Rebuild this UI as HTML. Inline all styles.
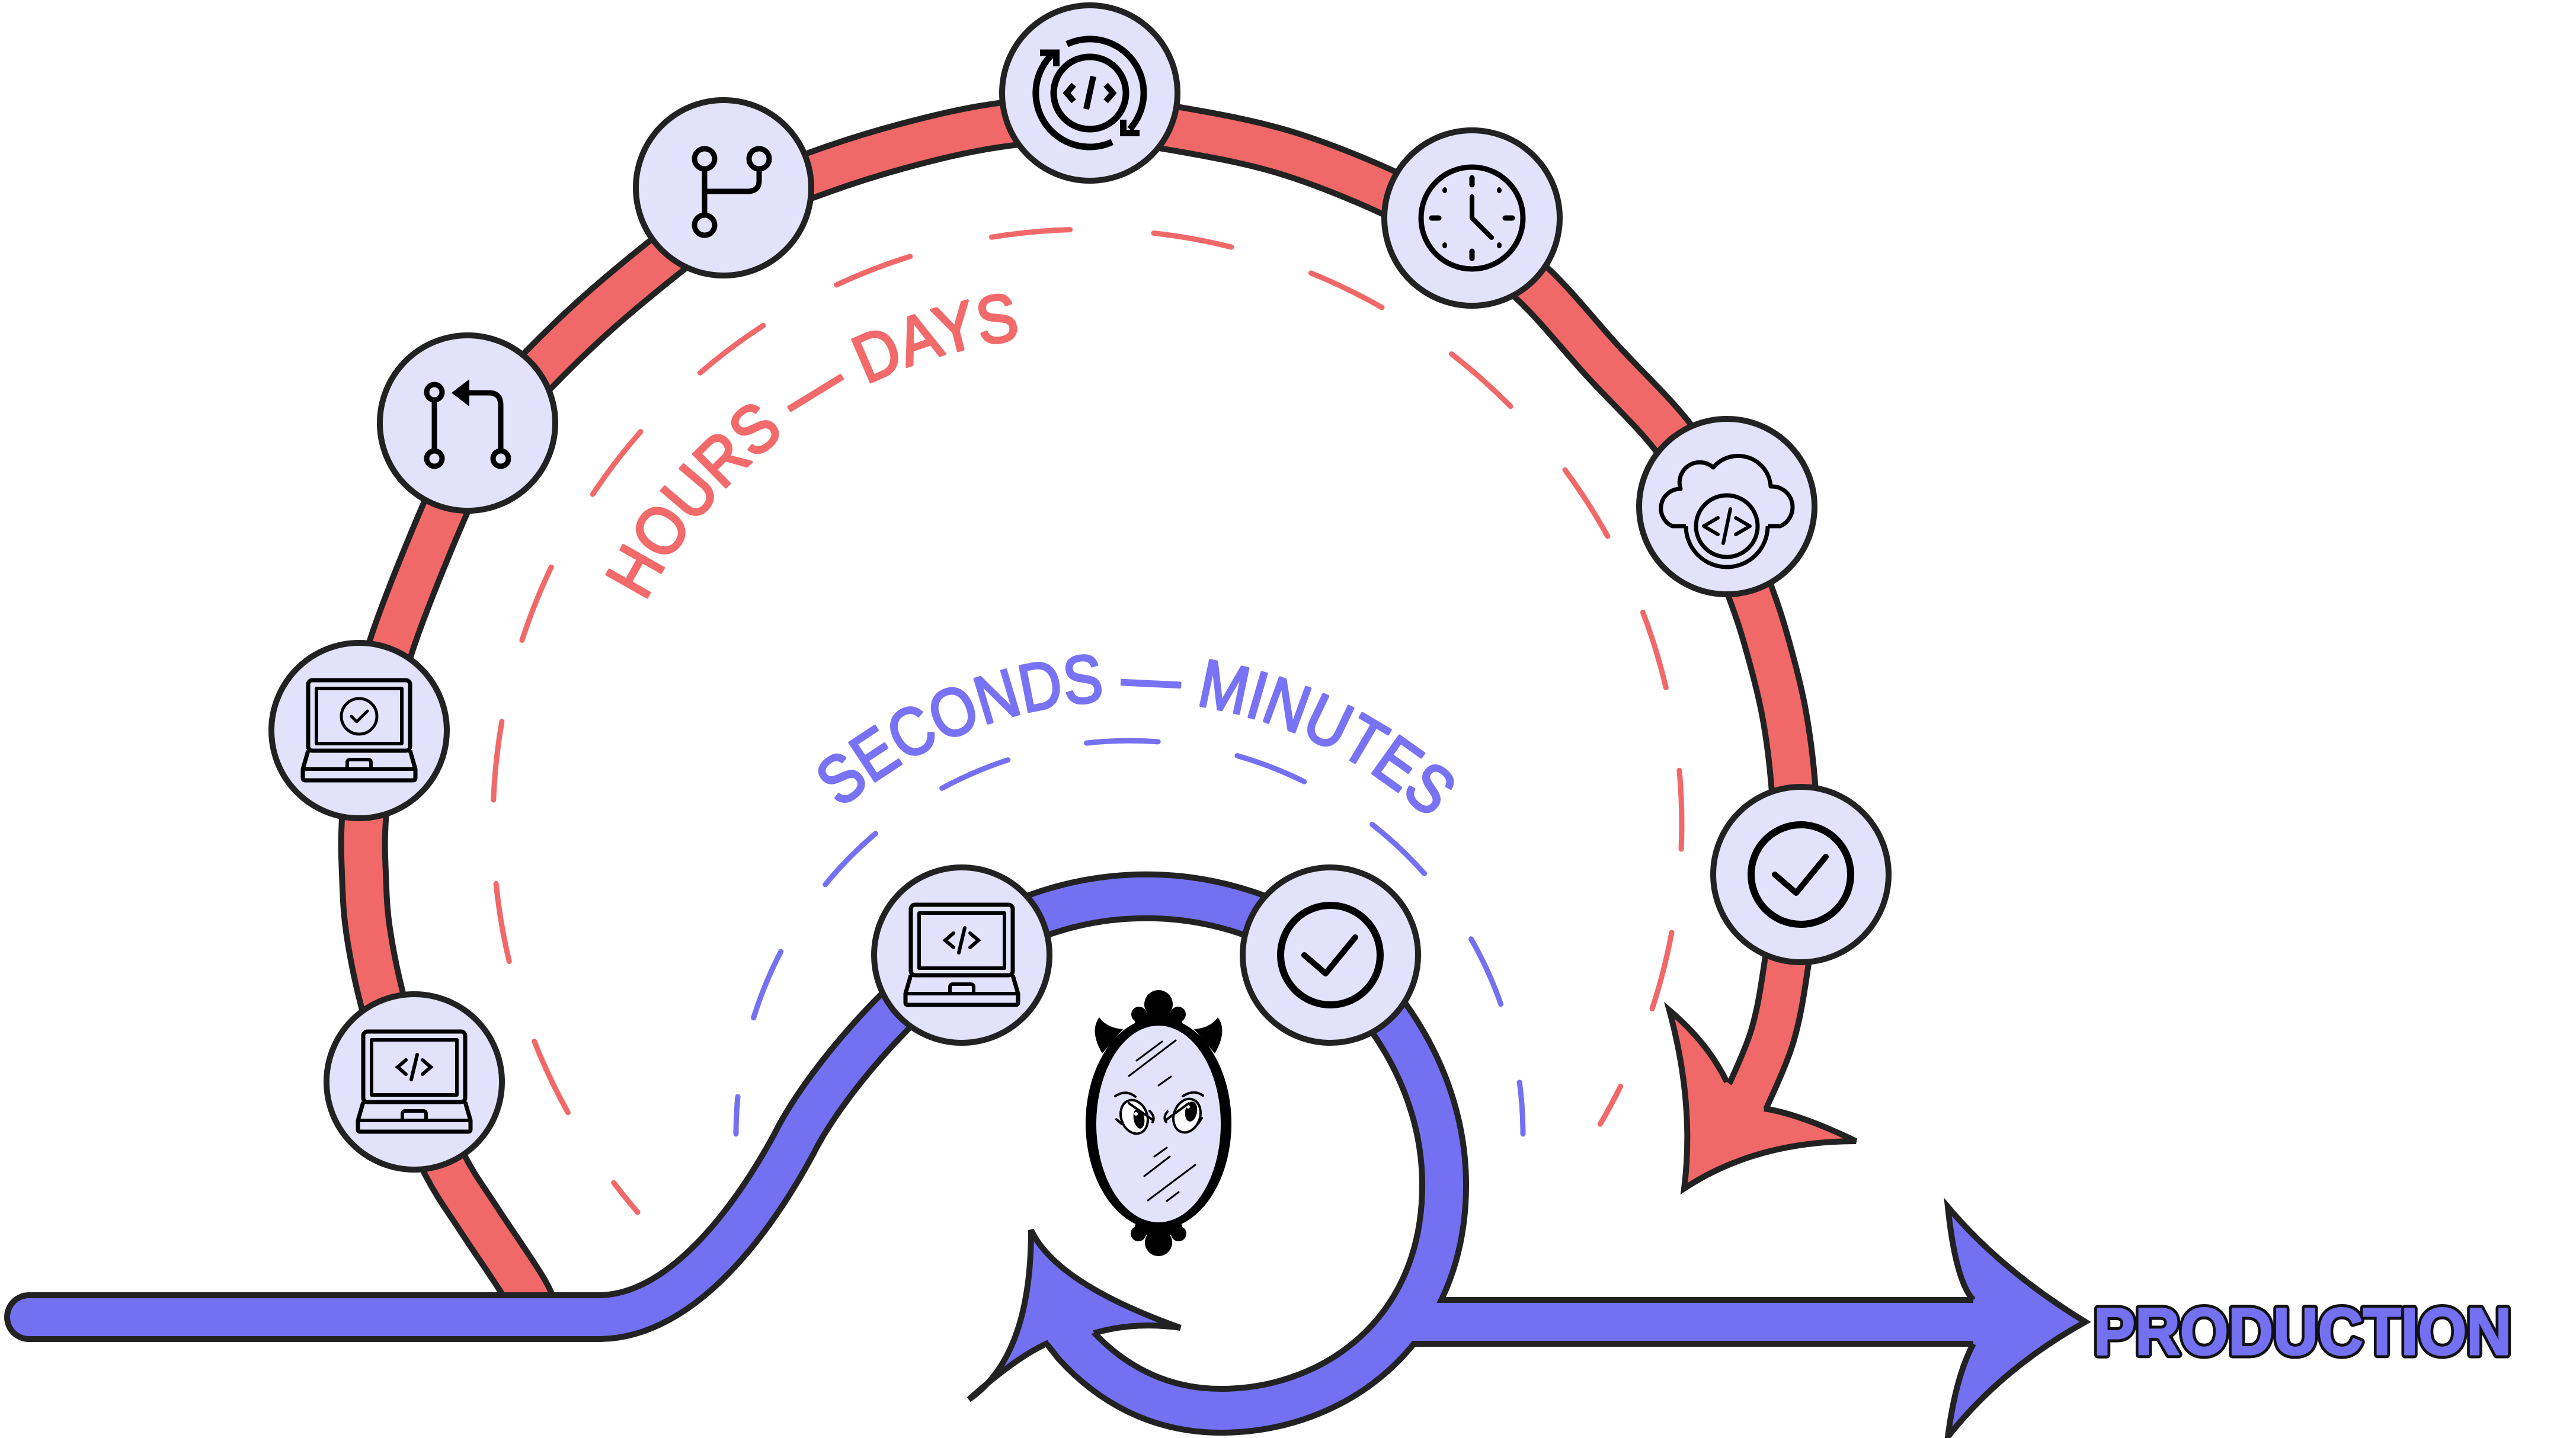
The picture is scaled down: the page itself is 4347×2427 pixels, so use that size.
<!DOCTYPE html>
<html><head><meta charset="utf-8"><title>Feedback loops</title>
<style>html,body{margin:0;padding:0;background:#fff}svg{display:block}</style>
</head>
<body>
<svg width="4347" height="2427" viewBox="0 0 4347 2427">
<defs>
  <g id="laptop" fill="none" stroke="#000" stroke-linejoin="round">
    <rect x="-86" y="-85" width="172" height="119" rx="7" stroke-width="7"/>
    <rect x="-72" y="-71" width="144" height="93" stroke-width="6"/>
    <path d="M-86 34 L-95 65 V80 Q-95 84 -91 84 H91 Q95 84 95 80 V65 L86 34" stroke-width="7"/>
    <path d="M-95 65 H95" stroke-width="6"/>
    <path d="M-20 65 V54 Q-20 49 -15 49 H15 Q20 49 20 54 V65" stroke-width="6"/>
  </g>
  <g id="code" fill="none" stroke="#000" stroke-width="6" stroke-linecap="round">
    <path d="M-14 -37 L-28 -25 L-14 -13 M14 -37 L28 -25 L14 -13 M5 -46 L-5 -4"/>
  </g>
  <g id="chk" fill="none" stroke="#000">
    <circle r="84" stroke-width="12"/>
    <path d="M-44 0 L-8 31 L42 -30" stroke-width="10" stroke-linecap="round" stroke-linejoin="round"/>
  </g>
  <path id="rt" d="M1076.1 1736.8 A823 823 0 0 1 2403.9 807.1" fill="none"/>
  <path id="bt" d="M1179.6 1780.8 A740 740 0 0 1 2636.9 1806.2" fill="none"/>
  <path id="redband" d="M910 2235 C906.2 2225.5 903.7 2207 887 2178 C870.3 2149 832.7 2096.2 810 2061 C787.3 2025.8 771.3 2005.8 751 1967 C730.7 1928.2 705.7 1874.5 688 1828 C670.3 1781.5 656.2 1731 645 1688 C633.8 1645 626.2 1605.7 621 1570 C615.8 1534.3 615.2 1505 614 1474 C612.8 1443 611.7 1423.5 614 1384 C616.3 1344.5 620.3 1286 628 1237 C635.7 1188 639.5 1153 660 1090 C680.5 1027 725.2 918.2 751 859 C776.8 799.8 789.3 773.5 815 735 C840.7 696.5 866.2 668.2 905 628 C943.8 587.8 993.8 539.5 1048 494 C1102.2 448.5 1176.2 388.2 1230 355 C1283.8 321.8 1321.8 313.2 1371 295 C1420.2 276.8 1473.5 259.8 1525 246 C1576.5 232.2 1627.5 219.7 1680 212 C1732.5 204.3 1786.7 198.7 1840 200 C1893.3 201.3 1944.8 210.3 2000 220 C2055.2 229.7 2113.8 240.5 2171 258 C2228.2 275.5 2293.5 302.2 2343 325 C2392.5 347.8 2428 369.8 2468 395 C2508 420.2 2543.5 440.2 2583 476 C2622.5 511.8 2664.8 566.2 2705 610 C2745.2 653.8 2791.5 696.5 2824 739 C2856.5 781.5 2878.5 821.8 2900 865 C2921.5 908.2 2939.3 961 2953 998 C2966.7 1035 2972.5 1053.2 2982 1087 C2991.5 1120.8 3002.7 1161.7 3010 1201 C3017.3 1240.3 3022.3 1277.3 3026 1323 C3029.7 1368.7 3033.8 1424.8 3032 1475 C3030.2 1525.2 3021.8 1578.5 3015 1624 C3008.2 1669.5 3002.7 1708.7 2991 1748 C2979.3 1787.3 2952.7 1841.3 2945 1860"/>
  <path id="blueband" d="M49 2223 L1010 2223 C1150 2223 1270 2060 1340 1930 C1390 1830 1520 1680 1623 1612 A537 537 0 0 1 2245 1612 C2330 1680 2437 1820 2437 2000 C2437 2250 2250 2381 2060 2381 C1950 2381 1870 2330 1815 2270 L1785 2232"/>
</defs>

<!-- red band -->
<use href="#redband" fill="none" stroke="#222" stroke-width="84" stroke-linejoin="round"/>
<use href="#redband" fill="none" stroke="#f16868" stroke-width="64" stroke-linejoin="round"/>
<!-- red arrowhead -->
<path d="M2914 1826 Q2882 1760 2817 1705 Q2860 1864 2842 2006 Q2963 1926 3132 1926 Q3037 1880 2977 1871 Z" fill="#f16868"/>
<path d="M2977 1871 Q3037 1880 3132 1926 Q2963 1926 2842 2006 Q2860 1864 2817 1705 Q2882 1760 2914 1826" fill="none" stroke="#222" stroke-width="10" stroke-linejoin="miter"/>

<!-- blue tube -->
<use href="#blueband" fill="none" stroke="#222" stroke-width="84" stroke-linecap="round"/>
<path d="M2365 2231 L3345 2231" fill="none" stroke="#222" stroke-width="84"/>
<use href="#blueband" fill="none" stroke="#7470f2" stroke-width="64" stroke-linecap="round"/>
<path d="M2365 2231 L3345 2231" fill="none" stroke="#7470f2" stroke-width="64"/>
<!-- blue loop arrowhead -->
<path d="M1770 2266 Q1715 2290 1635 2362 Q1740 2290 1740 2076 Q1782 2166 1992 2241 Q1915 2230 1846 2250 Z" fill="#7470f2"/>
<path d="M1846 2250 Q1915 2230 1992 2241 Q1782 2166 1740 2076 Q1740 2290 1635 2362 Q1715 2290 1770 2266" fill="none" stroke="#222" stroke-width="10"/>
<!-- production arrowhead -->
<path d="M3330 2194 Q3300 2162 3287 2037 Q3377 2144 3519 2231 Q3377 2310 3287 2425 Q3300 2324 3330 2268 Z" fill="#7470f2"/>
<path d="M3330 2194 Q3300 2162 3287 2037 Q3377 2144 3519 2231 Q3377 2310 3287 2425 Q3300 2324 3330 2268" fill="none" stroke="#222" stroke-width="10"/>

<!-- dashed arcs -->
<path d="M1076 2045.9 A1003 1003 0 1 1 2700.3 1897.3" fill="none" stroke="#f16868" stroke-width="9" stroke-linecap="round" stroke-dasharray="133 141.6" stroke-dashoffset="69"/>
<path d="M1242 1913.9 A664 664 0 0 1 2570 1913.9" fill="none" stroke="#7470f2" stroke-width="9" stroke-linecap="round" stroke-dasharray="121 136" stroke-dashoffset="58"/>

<!-- nodes -->
<g fill="#e2e2fc" stroke="#222" stroke-width="10">
  <circle cx="1839" cy="157" r="148"/>
  <circle cx="1221" cy="317" r="148"/>
  <circle cx="789" cy="714" r="148"/>
  <circle cx="606" cy="1233" r="148"/>
  <circle cx="699" cy="1826" r="148"/>
  <circle cx="2484" cy="368" r="148"/>
  <circle cx="2914" cy="855" r="148"/>
  <circle cx="3039" cy="1476" r="148"/>
  <circle cx="1623" cy="1612" r="148"/>
  <circle cx="2245" cy="1612" r="148"/>
</g>

<!-- sync icon -->
<g transform="translate(1839 157)" fill="none" stroke="#000" stroke-width="11">
  <circle r="61"/>
  <path d="M-38.5 -82.5 A91 91 0 0 1 67.6 60.9"/>
  <path d="M37.7 82.8 A91 91 0 0 1 -62.1 -66.6"/>
  <path d="M-84 -68 H-56.5 V-45" stroke-linejoin="miter"/>
  <path d="M56.5 45 V67.5 H84" stroke-linejoin="miter"/>
  <path d="M-27 -14 L-39 0 L-27 14 M27 -14 L39 0 L27 14 M6 -28 L-6 27" stroke-width="10"/>
</g>
<!-- branch icon -->
<g transform="translate(1221 317)" fill="none" stroke="#000" stroke-width="9" stroke-linecap="round">
  <circle cx="-32" cy="-49" r="17"/><circle cx="60" cy="-49" r="17"/><circle cx="-32" cy="63" r="17"/>
  <path d="M-32 -32 V46 M60 -32 V-12 Q60 6 40 6 H-32"/>
</g>
<!-- PR icon -->
<g transform="translate(789 714)" fill="none" stroke="#000" stroke-width="9">
  <circle cx="-56" cy="-52" r="13"/><circle cx="-56" cy="60" r="13"/><circle cx="56" cy="60" r="13"/>
  <path d="M-56 -39 V47 M56 47 V-30 Q56 -51 36 -51 H0"/>
  <path d="M-27 -51 L3 -74 L3 -28 Z" fill="#000" stroke="none"/>
</g>
<!-- laptops -->
<g transform="translate(606 1233)">
  <use href="#laptop"/>
  <circle cx="0" cy="-24" r="30" fill="none" stroke="#000" stroke-width="5"/>
  <path d="M-13 -24 L-4 -15 L14 -33" fill="none" stroke="#000" stroke-width="5" stroke-linecap="round" stroke-linejoin="round"/>
</g>
<g transform="translate(699 1826)"><use href="#laptop"/><use href="#code"/></g>
<g transform="translate(1623 1612)"><use href="#laptop"/><use href="#code"/></g>
<!-- clock -->
<g transform="translate(2484 368)" fill="none" stroke="#000" stroke-width="9" stroke-linecap="round">
  <circle r="86"/>
  <path d="M0 -68 V-56 M0 56 V68 M-68 0 H-56 M56 0 H68" stroke-width="9"/>
  <path d="M0 -36 V0 L33 33" stroke-width="8" stroke-linejoin="round"/>
  <g fill="#000" stroke="none">
    <ellipse cx="-46" cy="-47" rx="4" ry="5"/><ellipse cx="46" cy="-47" rx="4" ry="5"/>
    <ellipse cx="-46" cy="46" rx="4" ry="5"/><ellipse cx="46" cy="46" rx="4" ry="5"/>
  </g>
</g>
<!-- cloud -->
<g transform="translate(2914 855)" fill="none" stroke="#000" stroke-width="7" stroke-linejoin="round">
  <path d="M-69 33 H-92 A33 33 0 0 1 -78 -30 A34 34 0 0 1 -23 -66 A55 55 0 0 1 74 -34 A35 35 0 0 1 90 33 H69"/>
  <path d="M-69 33 A69 69 0 0 0 69 33"/>
  <circle cx="0" cy="33" r="52"/>
  <path d="M-15 19 L-39 33 L-15 47 M15 19 L39 33 L15 47 M6 4 L-6 62" stroke-width="6" stroke-linecap="round"/>
</g>
<!-- checks -->
<use href="#chk" x="3039" y="1476"/>
<use href="#chk" x="2245" y="1612"/>

<!-- mirror -->
<g fill="#000">
  <ellipse cx="1955" cy="1896" rx="123" ry="179"/>
  <circle cx="1955" cy="1695" r="24"/>
  <circle cx="1922" cy="1712" r="13"/><circle cx="1988" cy="1712" r="13"/>
  <ellipse cx="1955" cy="1724" rx="40" ry="18"/>
  <path d="M1860 1778 Q1838 1740 1855 1717 Q1868 1735 1895 1737 Z"/>
  <path d="M2050 1778 Q2072 1740 2055 1717 Q2042 1735 2015 1737 Z"/>
  <circle cx="1955" cy="2097" r="23"/>
  <circle cx="1921" cy="2082" r="13"/><circle cx="1989" cy="2082" r="13"/>
  <ellipse cx="1955" cy="2070" rx="40" ry="16"/>
</g>
<ellipse cx="1955" cy="1897" rx="105" ry="166" fill="#e2e2fc"/>
<g stroke="#000" stroke-width="3" stroke-linecap="round" fill="none">
  <path d="M1918 1790 L1961 1758 M1905 1816 L1984 1756 M1955 1832 L1976 1817 M1948 1952 L1969 1937 M1931 1985 L1974 1952 M1937 2026 L2017 1966 M1969 2027 L1989 2012"/>
</g>
<g stroke="#000" stroke-linecap="round">
  <ellipse cx="1914" cy="1885" rx="22" ry="29" transform="rotate(-20 1914 1885)" fill="#fff" stroke-width="4"/>
  <ellipse cx="1922" cy="1888" rx="9" ry="17" transform="rotate(-10 1922 1888)" fill="#000" stroke="none"/>
  <circle cx="1917" cy="1880" r="3" fill="#fff" stroke="none"/>
  <path d="M1882 1850 Q1900 1838 1916 1851 M1905 1862 L1945 1890 M1940 1875 Q1950 1885 1945 1894 M1884 1889 L1893 1897" fill="none" stroke-width="4"/>
  <ellipse cx="2003" cy="1883" rx="22" ry="29" transform="rotate(20 2003 1883)" fill="#fff" stroke-width="4"/>
  <ellipse cx="2010" cy="1876" rx="10" ry="17" transform="rotate(10 2010 1876)" fill="#000" stroke="none"/>
  <circle cx="2005" cy="1868" r="3" fill="#fff" stroke="none"/>
  <path d="M1996 1850 Q2015 1838 2030 1849 M2006 1862 L1968 1890 M1970 1876 Q1962 1886 1968 1894 M2028 1887 L2022 1896" fill="none" stroke-width="4"/>
</g>

<!-- curved labels -->
<text font-family="'Liberation Sans', sans-serif" font-size="114" fill="#f26a6a" stroke="#f26a6a" stroke-width="4" stroke-linejoin="round" text-anchor="middle"><textPath href="#rt" startOffset="50%" text-anchor="middle" textLength="806" lengthAdjust="spacingAndGlyphs">HOURS — DAYS</textPath></text>
<text font-family="'Liberation Sans', sans-serif" font-size="114" fill="#7872f4" stroke="#7872f4" stroke-width="4" stroke-linejoin="round" text-anchor="middle"><textPath href="#bt" startOffset="50%" text-anchor="middle" textLength="1090" lengthAdjust="spacingAndGlyphs">SECONDS — MINUTES</textPath></text>

<!-- production label -->
<text x="3533" y="2286" font-family="'Liberation Sans', sans-serif" font-weight="bold" font-size="112" textLength="705" lengthAdjust="spacingAndGlyphs" fill="#111" stroke="#111" stroke-width="13" stroke-linejoin="round">PRODUCTION</text>
<text x="3533" y="2286" font-family="'Liberation Sans', sans-serif" font-weight="bold" font-size="112" textLength="705" lengthAdjust="spacingAndGlyphs" fill="#7470f2" stroke="#7470f2" stroke-width="3" stroke-linejoin="round">PRODUCTION</text>
</svg>
</body></html>
